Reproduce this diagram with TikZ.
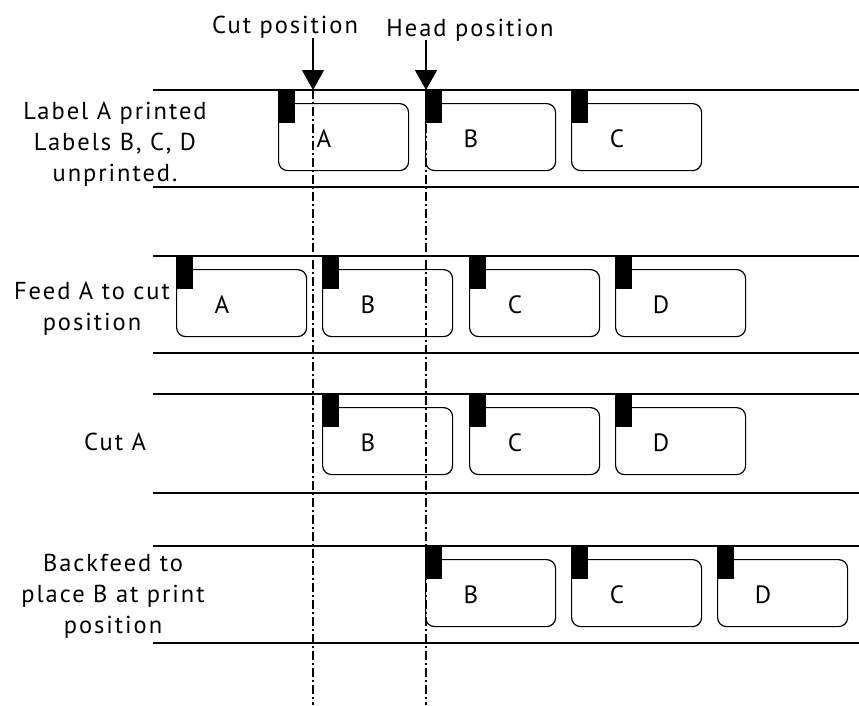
\documentclass[tikz,border=0pt]{standalone}
\usepackage{fontspec}
\setmainfont{PT Sans}[LetterSpace=8]
\usetikzlibrary{arrows.meta}

% one label on the tape: name, left x, row top y, letter
\newcommand{\labelcard}[4]{%
  \node[card] (#1) at (#2,#3+13) {};
  \fill ([yshift=13pt]#1.north west) rectangle ++(17,33);
  \node[letter] (#1t) at (#2+46,#3+57) {#4};
}

\begin{document}
\begin{tikzpicture}[x=1pt,y=-1pt,
    card/.style={draw, rounded corners=9pt, minimum width=130pt,
      minimum height=67pt, anchor=north west, inner sep=0pt, line width=1.2pt},
    letter/.style={anchor=base, inner sep=0pt, font=\fontsize{25}{28}\selectfont},
    caption/.style={anchor=base, inner sep=0pt, align=center,
      font=\fontsize{24.5}{31}\selectfont},
    tape/.style={line width=1.3pt},
    guide/.style={line width=1.4pt, dash pattern=on 9pt off 3pt on 2pt off 3pt},
    pointer/.style={line width=1.4pt, -{Triangle[width=22pt,length=20pt]}}]
  \useasboundingbox (0,0) rectangle (859,705);

  % tape edges
  \foreach \t/\b in {90/187, 256/353, 394/493, 546/643} {
    \draw[tape] (153,\t) -- (859,\t);
    \draw[tape] (153,\b) -- (859,\b);
  }

  % labels
  \labelcard{a1}{278}{90}{A}
  \labelcard{b1}{425}{90}{B}
  \labelcard{c1}{571}{90}{C}

  \labelcard{a2}{176}{256}{A}
  \labelcard{b2}{322}{256}{B}
  \labelcard{c2}{469}{256}{C}
  \labelcard{d2}{615}{256}{D}

  \labelcard{b3}{322}{394}{B}
  \labelcard{c3}{469}{394}{C}
  \labelcard{d3}{615}{394}{D}

  \labelcard{b4}{425}{546}{B}
  \labelcard{c4}{571}{546}{C}
  \labelcard{d4}{717}{546}{D}

  % positions
  \node[caption] (cuttext) at (285,33) {Cut position};
  \node[caption] (headtext) at (470,36) {Head position};
  \coordinate (cuttop) at (313,38);
  \coordinate (cut) at (313,90);
  \coordinate (cutend) at (313,705);
  \coordinate (headtop) at (426,40);
  \coordinate (head) at (426,90);
  \coordinate (headend) at (426,705);
  \draw[pointer] (cuttop) -- (cut);
  \draw[pointer] (headtop) -- (head);
  \draw[guide] (cut) -- (cutend);
  \draw[guide] (head) -- (headend);

  % steps (base is the last line)
  \node[caption] (step1) at (115,181) {Label A printed\\Labels B, C, D\\unprinted.};
  \node[caption] (step2) at (92,330) {Feed A to cut\\position};
  \node[caption] (step3) at (115,450) {Cut A};
  \node[caption] (step4) at (113,633) {Backfeed to\\place B at print\\position};
\end{tikzpicture}
\end{document}
